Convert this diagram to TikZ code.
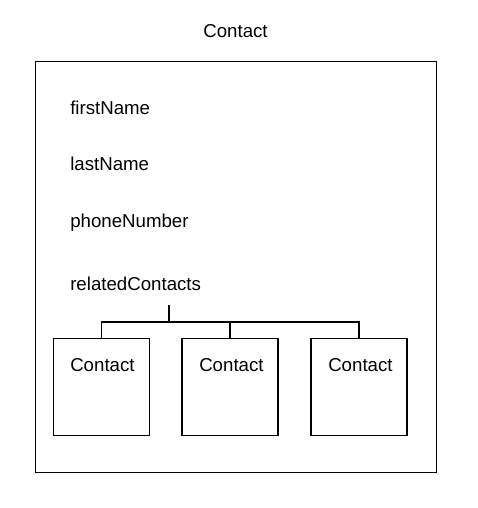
\documentclass[tikz,border=0pt]{standalone}
\usepackage{fontspec}
\setmainfont{Liberation Sans}
\usetikzlibrary{positioning}

\begin{document}
\begin{tikzpicture}[x=0.75pt, y=-0.75pt, font=\fontsize{14}{17}\selectfont,
   lbl/.style={anchor=base west, inner sep=0pt},
   outer/.style={rectangle, draw=black, line width=0.8pt, minimum width=401*0.75pt,
     minimum height=411*0.75pt, inner sep=0pt},
   sub/.style={rectangle, draw=black, line width=0.8pt, minimum width=96*0.75pt,
     minimum height=97*0.75pt, inner sep=0pt},
   ln/.style={draw=black, line width=0.8pt}]
 \useasboundingbox (0,0) rectangle (478,508);
 \node[anchor=base] (title) at (235.5,37) {Contact};
 \node[outer, anchor=north west] (main) at (35,61) {};
 \node[lbl] (first) at (70,114) {firstName};
 \node[lbl] (last) at (70,170) {lastName};
 \node[lbl] (phone) at (70,227) {phoneNumber};
 \node[lbl] (rel) at (70,290) {relatedContacts};
 \node[sub, anchor=north] (c1) at (101.5,338) {};
 \node[sub, anchor=north] (c2) at (230,338) {};
 \node[sub, anchor=north] (c3) at (359,338) {};
 \node[lbl] (t1) at (70,371) {Contact};
 \node[lbl] (t2) at (199,371) {Contact};
 \node[lbl] (t3) at (328,371) {Contact};
 \coordinate (stem) at (169,305);
 \coordinate (join) at (169,322);
 \draw[ln] (stem) -- (join);
 \draw[ln] (c1.north) |- (join) -| (c3.north);
 \draw[ln] (c2.north) -- (c2.north |- join);
\end{tikzpicture}
\end{document}
